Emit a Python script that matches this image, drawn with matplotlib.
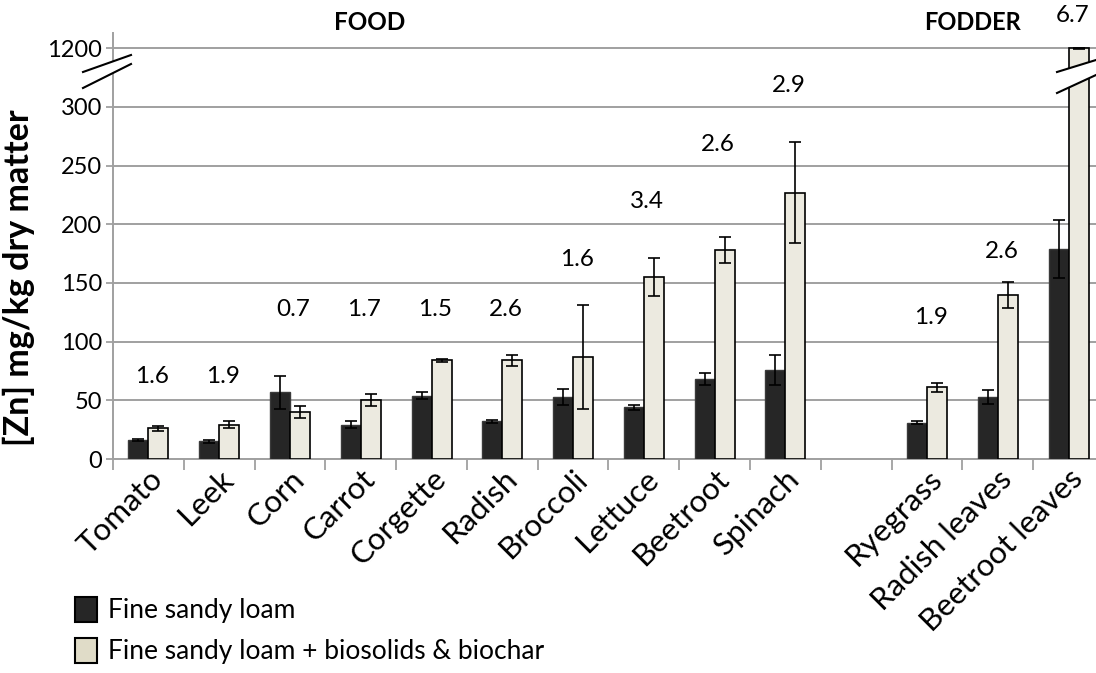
import numpy as np
import matplotlib.pyplot as plt
from matplotlib.patches import Patch, Polygon

plt.rcParams['font.family'] = ['Lato', 'DejaVu Sans']

# crops (empty slot separates food from fodder)
crops = ['Tomato', 'Leek', 'Corn', 'Carrot', 'Corgette', 'Radish', 'Broccoli',
         'Lettuce', 'Beetroot', 'Spinach', '', 'Ryegrass', 'Radish leaves',
         'Beetroot leaves']

# [Zn] mg/kg dry matter
loam = [16, 15, 57, 29, 54, 32, 53, 44, 68, 76, np.nan, 31, 53, 179]
loam_err = [1, 1, 14, 3, 3, 1, 7, 2, 5, 13, np.nan, 1, 6, 25]
amended = [26, 29, 40, 50, 84, 84, 87, 155, 178, 227, np.nan, 61, 140, 1200]
amended_err = [2, 3, 5, 5, 1.5, 5, 44, 16, 11, 43, np.nan, 4, 11, 10]

# amended / unamended ratio written over each crop
ratios = ['1.6', '1.9', '0.7', '1.7', '1.5', '2.6', '1.6', '3.4', '2.6', '2.9',
          '', '1.9', '2.6', '6.7']
ratio_y = [70, 70, 127, 127, 127, 127, 170, 219, 268, 318, 0, 121, 177, 378]

yticks = [0, 50, 100, 150, 200, 250, 300, 1200]


def squash(v):
    """Compress everything above 300 so 1200 sits one step higher."""
    v = np.asarray(v, dtype=float)
    return np.where(v <= 300, v, 300 + (v - 300) * 50 / 900)


W, H = 1096, 673
fig = plt.figure(figsize=(W / 100, H / 100), dpi=100)
ax = fig.add_axes([113 / W, (H - 459) / H, 991 / W, 426 / H])

x = np.arange(len(crops))
loam = np.array(loam); amended = np.array(amended)
loam_err = np.array(loam_err); amended_err = np.array(amended_err)
ok = ~np.isnan(loam)
bw = 0.283
dark = '#262626'
light = '#ECEAE0'

ax.bar(x[ok], squash(loam[ok]), width=-bw, align='edge', color=dark,
       edgecolor='#3a3a3a', linewidth=1, zorder=3)
ax.bar(x[ok], squash(amended[ok]), width=bw, align='edge', color=light,
       edgecolor='black', linewidth=1.2, zorder=3)

for xs, v, e in [(x[ok] - bw / 2, loam[ok], loam_err[ok]),
                 (x[ok] + bw / 2, amended[ok], amended_err[ok])]:
    lo = squash(v) - squash(v - e)
    hi = squash(v + e) - squash(v)
    ax.errorbar(xs, squash(v), yerr=[lo, hi], fmt='none', ecolor='black',
                elinewidth=1.2, capsize=4, capthick=1.2, zorder=4)

for xi, r, ry in zip(x, ratios, ratio_y):
    if r:
        ax.text(xi + 0.05, ry, r, ha='center', va='center', fontsize=17.5,
                clip_on=False, zorder=5)

ax.set_xlim(-0.5, len(crops) - 0.5)
ax.set_ylim(0, 363)
ax.set_yticks(squash(yticks))
ax.set_yticklabels([str(t) for t in yticks], fontsize=17)
ax.set_xticks(x - 0.5, minor=False)
ax.set_xticklabels([])
ax.set_xticks(x, minor=True)
ax.set_xticklabels(crops, minor=True, rotation=45, ha='right',
                   rotation_mode='anchor', fontsize=22.5)
ax.tick_params(axis='x', which='major', length=8, color='#A0A0A0', width=1.3)
ax.tick_params(axis='x', which='minor', length=0, pad=4)
ax.tick_params(axis='y', length=5, color='#A0A0A0', width=1.3, pad=3)
ax.grid(axis='y', color='#A0A0A0', linewidth=1.4, zorder=0)
ax.set_axisbelow(True)
for s in ['top', 'right']:
    ax.spines[s].set_visible(False)
for s in ['left', 'bottom']:
    ax.spines[s].set_color('#A0A0A0')
    ax.spines[s].set_linewidth(1.4)

ax.set_ylabel('[Zn] mg/kg dry matter', fontsize=24.5, fontweight='bold')
ax.yaxis.set_label_coords(-0.079, 0.425)

# break marks on the y axis and across the tall bar
def break_mark(x0, x1, ya, yb, yc, yd):
    pts = [(x0 / W, 1 - ya / H), (x1 / W, 1 - yb / H),
           (x1 / W, 1 - yd / H), (x0 / W, 1 - yc / H)]
    fig.patches.append(Polygon(pts, closed=True, transform=fig.transFigure,
                               facecolor='white', edgecolor='none', zorder=6))
    fig.lines.append(plt.Line2D([pts[0][0], pts[1][0]], [pts[0][1], pts[1][1]],
                                transform=fig.transFigure, color='black', lw=1.5, zorder=7))
    fig.lines.append(plt.Line2D([pts[3][0], pts[2][0]], [pts[3][1], pts[2][1]],
                                transform=fig.transFigure, color='black', lw=1.5, zorder=7))

break_mark(83, 131, 72, 55, 88, 64)
break_mark(1057, 1096, 72, 60, 93, 75)

fig.text(370 / W, 1 - 22 / H, 'FOOD', ha='center', va='center',
         fontsize=17.5, fontweight='bold')
fig.text(972 / W, 1 - 22 / H, 'FODDER', ha='center', va='center',
         fontsize=17, fontweight='bold')

handles = [Patch(facecolor=dark, edgecolor='black', linewidth=1.5),
           Patch(facecolor='#E0DCC8', edgecolor='black', linewidth=1.5)]
fig.legend(handles, ['Fine sandy loam', 'Fine sandy loam + biosolids & biochar'],
           loc='upper left', bbox_to_anchor=(64 / W, 1 - 586 / H), frameon=False,
           fontsize=19, handlelength=0.85, handleheight=1.1, handletextpad=0.4,
           labelspacing=0.55, borderaxespad=0)

fig.savefig('out.png', dpi=100)
